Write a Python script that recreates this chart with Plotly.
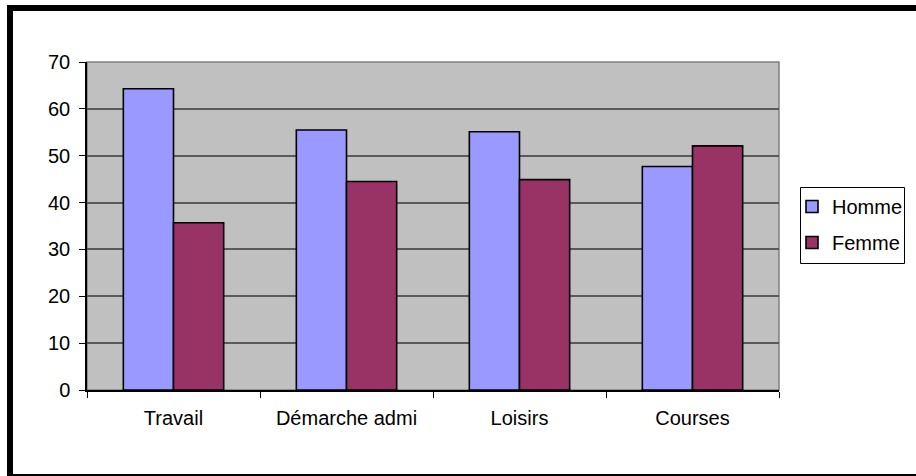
import plotly.graph_objects as go

categories = ["Travail", "Démarche admi", "Loisirs", "Courses"]
homme = [64.3, 55.5, 55.1, 47.7]
femme = [35.7, 44.5, 44.9, 52.1]
y_ticks = [0, 10, 20, 30, 40, 50, 60, 70]

W, H = 916, 476
L, R, T, B = 87, 779, 62, 390
pw, ph = R - L, B - T

def px(x):
    return (x - L) / pw

def py(y):
    return (B - y) / ph

FONT = "Liberation Sans, Arial, sans-serif"

fig = go.Figure()
fig.add_trace(go.Bar(x=categories, y=homme, name="Homme", legendgroup="h",
                     marker=dict(color="#9999FF", line=dict(color="black", width=1.6))))
fig.add_trace(go.Bar(x=categories, y=femme, name="Femme", legendgroup="f",
                     marker=dict(color="#993366", line=dict(color="black", width=1.6))))

fig.update_layout(
    width=W, height=H,
    margin=dict(l=L, r=W - R, t=T, b=H - B, autoexpand=False),
    paper_bgcolor="white",
    plot_bgcolor="#C0C0C0",
    barmode="group", bargap=0.42, bargroupgap=0,
    font=dict(family=FONT, size=20, color="black"),
    showlegend=True,
    legend=dict(x=px(792), y=py(187), xanchor="left", yanchor="top",
                bgcolor="rgba(0,0,0,0)", borderwidth=0,
                font=dict(family=FONT, size=20, color="black"),
                tracegroupgap=7, itemwidth=30),
    xaxis=dict(type="category", showgrid=False, showline=True, linecolor="black", linewidth=2,
               ticks="outside", ticklen=6, tickcolor="black", tickson="boundaries",
               ticklabelstandoff=9, mirror=False, zeroline=False),
    yaxis=dict(range=[0, 70], tickvals=y_ticks, showgrid=True, gridcolor="#5A5A5A", gridwidth=1.5,
               showline=True, linecolor="black", linewidth=1.5, ticks="outside", ticklen=6,
               tickcolor="black", ticklabelstandoff=5, zeroline=False),
    shapes=[
        dict(type="rect", xref="paper", yref="paper", x0=0, x1=1, y0=0, y1=1,
             line=dict(color="#808080", width=1.5), layer="below"),
        dict(type="rect", xref="paper", yref="paper",
             x0=px(800.5), x1=px(904.5), y0=py(263.5), y1=py(187.5),
             line=dict(color="black", width=1), fillcolor="white", layer="below"),
        dict(type="rect", xref="paper", yref="paper",
             x0=px(10), x1=px(930), y0=py(477), y1=py(8),
             line=dict(color="black", width=6), fillcolor="rgba(0,0,0,0)", layer="above"),
    ],
)

fig.write_html("out.html", config={"displayModeBar": False},
               post_script="document.body.style.margin='0';")
